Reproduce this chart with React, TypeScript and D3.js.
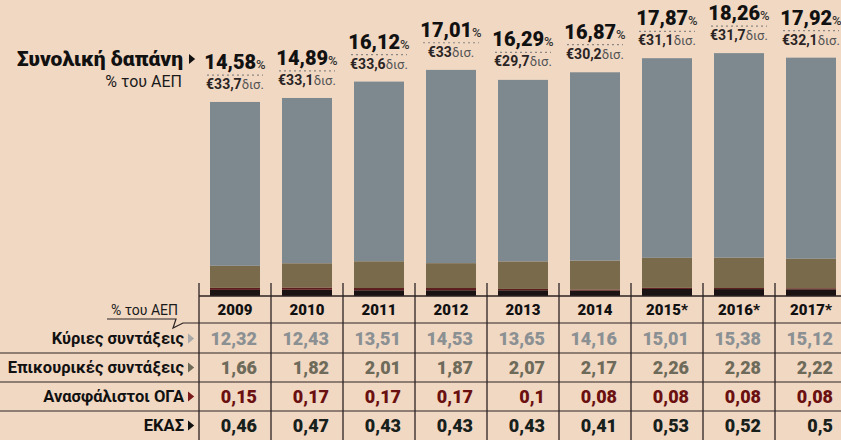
import React from "react";
import * as d3 from "d3";

const years = ["2009", "2010", "2011", "2012", "2013", "2014", "2015*", "2016*", "2017*"];
const totalPct = [14.58, 14.89, 16.12, 17.01, 16.29, 16.87, 17.87, 18.26, 17.92];
const spendBn = [33.7, 33.1, 33.6, 33, 29.7, 30.2, 31.1, 31.7, 32.1];
const mainPensions = [12.32, 12.43, 13.51, 14.53, 13.65, 14.16, 15.01, 15.38, 15.12];
const auxPensions = [1.66, 1.82, 2.01, 1.87, 2.07, 2.17, 2.26, 2.28, 2.22];
const ogaUninsured = [0.15, 0.17, 0.17, 0.17, 0.1, 0.08, 0.08, 0.08, 0.08];
const ekas = [0.46, 0.47, 0.43, 0.43, 0.43, 0.41, 0.53, 0.52, 0.5];
const rowLabels = ["Κύριες συντάξεις", "Επικουρικές συντάξεις", "Ανασφάλιστοι ΟΓΑ", "ΕΚΑΣ"];

const W = 841;
const H = 440;
const FONT = "Roboto, 'Open Sans', sans-serif";
const BG = "#f1d8c3";
const LINE = "#2b2323";

const segColors = ["#7e898f", "#7a6a4c", "#5c1b1d", "#1b1313"];
const triColors = ["#a9a9a9", "#6d6a58", "#7a1a1a", "#111111"];
const valColors = ["#8b9093", "#6e6b5a", "#6b1010", "#17201b"];

const loc = d3.formatLocale({ decimal: ",", thousands: ".", grouping: [3], currency: ["€", ""] });
const fmt = loc.format("~f");

export default function App() {
  const baseY = 296;
  const x = d3.scaleBand<string>().domain(years).range([199, 847]).paddingInner(0).paddingOuter(0);
  const y = d3.scaleLinear().domain([0, 20]).range([baseY, baseY - 20 * 13.3]);
  const barW = 50;

  // stack order: bottom ΕΚΑΣ, ΟΓΑ, Επικουρικές, Κύριες on top
  const table = years.map((yr, i) => ({
    yr,
    main: mainPensions[i],
    aux: auxPensions[i],
    oga: ogaUninsured[i],
    ekas: ekas[i],
  }));
  const keys = ["ekas", "oga", "aux", "main"];
  const keyColor: Record<string, string> = {
    main: segColors[0],
    aux: segColors[1],
    oga: segColors[2],
    ekas: segColors[3],
  };
  const stacked = d3.stack<any>().keys(keys)(table);

  const rowSeries = [mainPensions, auxPensions, ogaUninsured, ekas];
  const rowCenters = [338.5, 367.5, 396.5, 425.5];
  const rowLines = [353, 382, 411];

  const tri = (cx: number, cy: number, h: number) =>
    `M${cx},${cy - h / 2} L${cx + h * 0.62},${cy} L${cx},${cy + h / 2} Z`;

  return (
    <div style={{ position: "fixed", left: 0, top: 0, width: W, height: H }}>
      <svg width={W} height={H} style={{ display: "block", fontFamily: FONT }}>
        <rect x={0} y={0} width={W} height={H} fill={BG} />

        {/* Title */}
        <text x={183} y={66} textAnchor="end" fontSize={21} fontWeight={900} fill="#111">
          Συνολική δαπάνη
        </text>
        <path d={tri(189, 59, 10)} fill="#111" />
        <text x={182} y={87} textAnchor="end" fontSize={16} fill="#1a1a1a">
          % του ΑΕΠ
        </text>

        {/* Bars */}
        {stacked.map((layer) => (
          <g key={layer.key}>
            {layer.map((d, i) => (
              <rect
                key={years[i]}
                x={(x(years[i]) as number) + (x.bandwidth() - barW) / 2}
                y={y(d[1])}
                width={barW}
                height={y(d[0]) - y(d[1])}
                fill={keyColor[layer.key as string]}
              />
            ))}
          </g>
        ))}

        {/* Top labels */}
        {years.map((yr, i) => {
          const cx = (x(yr) as number) + x.bandwidth() / 2;
          const top = y(totalPct[i]);
          return (
            <g key={"lab" + yr}>
              <text x={cx} y={top - 33} textAnchor="middle" fill="#111" fontWeight={900} fontSize={20}>
                {fmt(totalPct[i])}
                <tspan fontSize={13} fontWeight={500} fill="#333">%</tspan>
              </text>
              <line
                x1={cx - 28}
                x2={cx + 28}
                y1={top - 27}
                y2={top - 27}
                stroke="#8d8682"
                strokeWidth={1.2}
                strokeDasharray="2,3"
              />
              <text x={cx} y={top - 13} textAnchor="middle" fill="#2a2424" fontWeight={700} fontSize={14}>
                {"€" + fmt(spendBn[i])}
                <tspan fontWeight={400} fontSize={13} fill="#555">δισ.</tspan>
              </text>
            </g>
          );
        })}

        {/* Table grid */}
        <line x1={199} x2={W} y1={baseY} y2={baseY} stroke={LINE} strokeWidth={1.3} />
        <path
          d={`M107,319 L176,319 L173,328 L183,323 L${W},323`}
          fill="none"
          stroke={LINE}
          strokeWidth={1.2}
        />
        {rowLines.map((ly) => (
          <line key={"rl" + ly} x1={0} x2={W} y1={ly} y2={ly} stroke={LINE} strokeWidth={1.2} />
        ))}
        {years.map((yr) => (
          <line
            key={"vl" + yr}
            x1={x(yr) as number}
            x2={x(yr) as number}
            y1={283}
            y2={H}
            stroke={LINE}
            strokeWidth={1.3}
          />
        ))}

        {/* Header row */}
        <text x={178} y={315} textAnchor="end" fontSize={14} fill="#1a1a1a">
          % του ΑΕΠ
        </text>
        {years.map((yr) => (
          <text
            key={"yr" + yr}
            x={(x(yr) as number) + x.bandwidth() / 2}
            y={315}
            textAnchor="middle"
            fontSize={15}
            fontWeight={900}
            fill="#111"
          >
            {yr}
          </text>
        ))}

        {/* Data rows */}
        {rowLabels.map((lab, r) => (
          <g key={"row" + r}>
            <text
              x={184}
              y={rowCenters[r]}
              dy="0.36em"
              textAnchor="end"
              fontSize={16.5}
              fontWeight={700}
              fill="#111"
            >
              {lab}
            </text>
            <path d={tri(188, rowCenters[r], 10)} fill={triColors[r]} />
            {years.map((yr, i) => (
              <text
                key={"v" + r + yr}
                x={(x(yr) as number) + x.bandwidth() - 14}
                y={rowCenters[r]}
                dy="0.36em"
                textAnchor="end"
                fontSize={18}
                fontWeight={900}
                fill={valColors[r]}
              >
                {fmt(rowSeries[r][i])}
              </text>
            ))}
          </g>
        ))}
      </svg>
    </div>
  );
}
